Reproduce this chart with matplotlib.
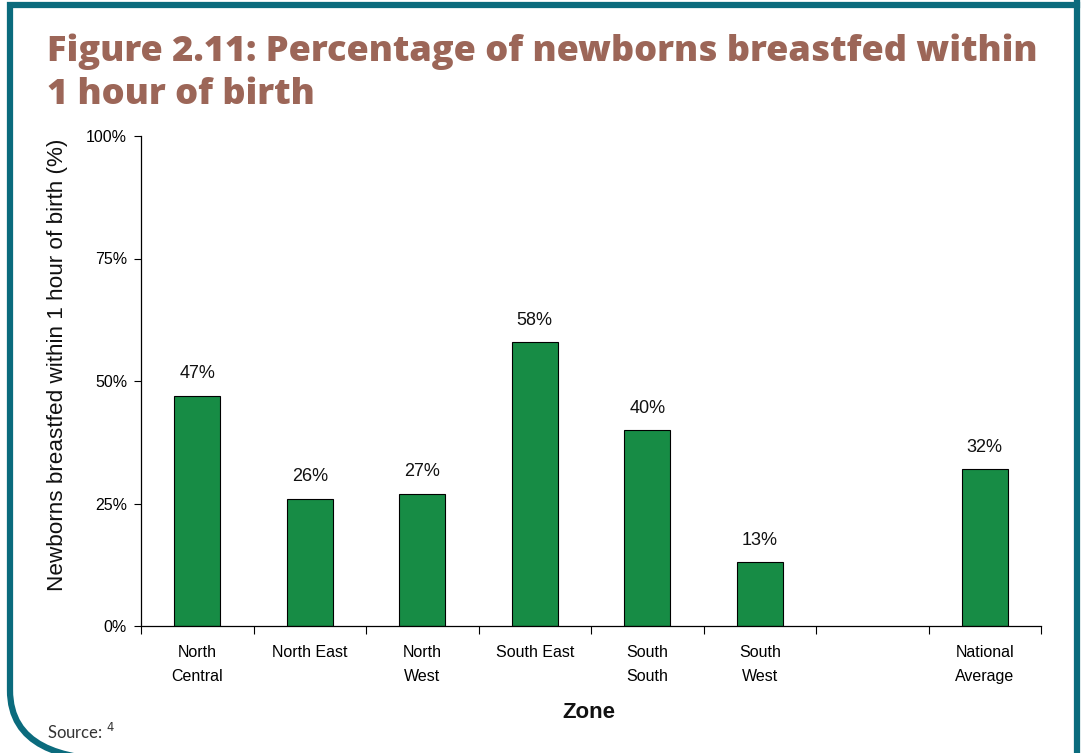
import numpy as np
import matplotlib
matplotlib.use("Agg")
import matplotlib.pyplot as plt
from matplotlib.path import Path
from matplotlib.patches import PathPatch

categories = ["North\nCentral", "North East", "North\nWest", "South East",
              "South\nSouth", "South\nWest", "", "National\nAverage"]
values = [47, 26, 27, 58, 40, 13, np.nan, 32]
ytick_values = [0, 25, 50, 75, 100]
ytick_labels = ["0%", "25%", "50%", "75%", "100%"]

plt.rcParams['font.family'] = ['Liberation Sans', 'DejaVu Sans']

W, H = 1081, 753
fig = plt.figure(figsize=(W / 100, H / 100), dpi=100)

def fx(px):
    return px / W
def fy(py):
    return 1 - py / H

# teal frame with rounded bottom-left corner
teal = "#0b6b7d"
verts = [(fx(1077), fy(-5)), (fx(1077), fy(5)), (fx(10), fy(5)), (fx(10), fy(690)),
         (fx(10), fy(745)), (fx(60), fy(760)), (fx(120), fy(760))]
codes = [Path.MOVETO, Path.LINETO, Path.LINETO, Path.LINETO,
         Path.CURVE4, Path.CURVE4, Path.CURVE4]
fig.patches.append(PathPatch(Path(verts, codes), transform=fig.transFigure, fill=False,
                             edgecolor=teal, linewidth=4.5, joinstyle='miter', capstyle='butt'))
fig.add_artist(plt.Line2D([fx(1077), fx(1077)], [fy(5), fy(760)], transform=fig.transFigure,
                          color=teal, linewidth=4.5))

ax = fig.add_axes([141 / W, 1 - 626 / H, 900 / W, 490 / H])
x = np.arange(len(categories))
ax.bar(x, values, width=0.41, color="#178c45", edgecolor="black", linewidth=0.8, zorder=2)
for xi, v in zip(x, values):
    if not np.isnan(v):
        ax.text(xi, v + 2.7, f"{v:.0f}%", ha="center", va="bottom", fontsize=13, color="#111111")

ax.set_xlim(-0.5, len(categories) - 0.5)
ax.set_ylim(0, 100)
ax.set_yticks(ytick_values)
ax.set_yticklabels(ytick_labels, fontsize=11.5)
ax.set_xticks(np.arange(len(categories) + 1) - 0.5)
ax.set_xticklabels([])
ax.set_xticks(x, minor=True)
ax.set_xticklabels(categories, minor=True, fontsize=11.5, linespacing=1.75, va="top")
ax.tick_params(axis="x", which="minor", length=0, pad=14)
ax.tick_params(axis="x", which="major", length=6, direction="out", width=0.8)
ax.tick_params(axis="y", length=5, direction="out", width=0.8, pad=5)
for s in ["top", "right"]:
    ax.spines[s].set_visible(False)
for s in ["left", "bottom"]:
    ax.spines[s].set_linewidth(0.9)

fig.text(fx(58), fy(365), "Newborns breastfed within 1 hour of birth (%)", fontsize=16.2,
         rotation=90, ha="center", va="center", color="#111111")
fig.text(fx(589), fy(712), "Zone", fontsize=16, fontweight="bold", ha="center", va="center",
         color="#111111")

title_color = "#9c6658"
tfont = ["Open Sans", "DejaVu Sans"]
fig.text(47 / W, 1 - 61 / H, "Figure 2.11: Percentage of newborns breastfed within",
         fontsize=26, fontweight="heavy", family=tfont, color=title_color,
         ha="left", va="baseline")
fig.text(47 / W, 1 - 104 / H, "1 hour of birth",
         fontsize=26, fontweight="heavy", family=tfont, color=title_color,
         ha="left", va="baseline")
fig.text(47 / W, 1 - 739 / H, "Source: $^{4}$", fontsize=12,
         family=["Lato", "DejaVu Sans"], color="#333333", ha="left", va="baseline")

fig.savefig("out.png", dpi=100)
